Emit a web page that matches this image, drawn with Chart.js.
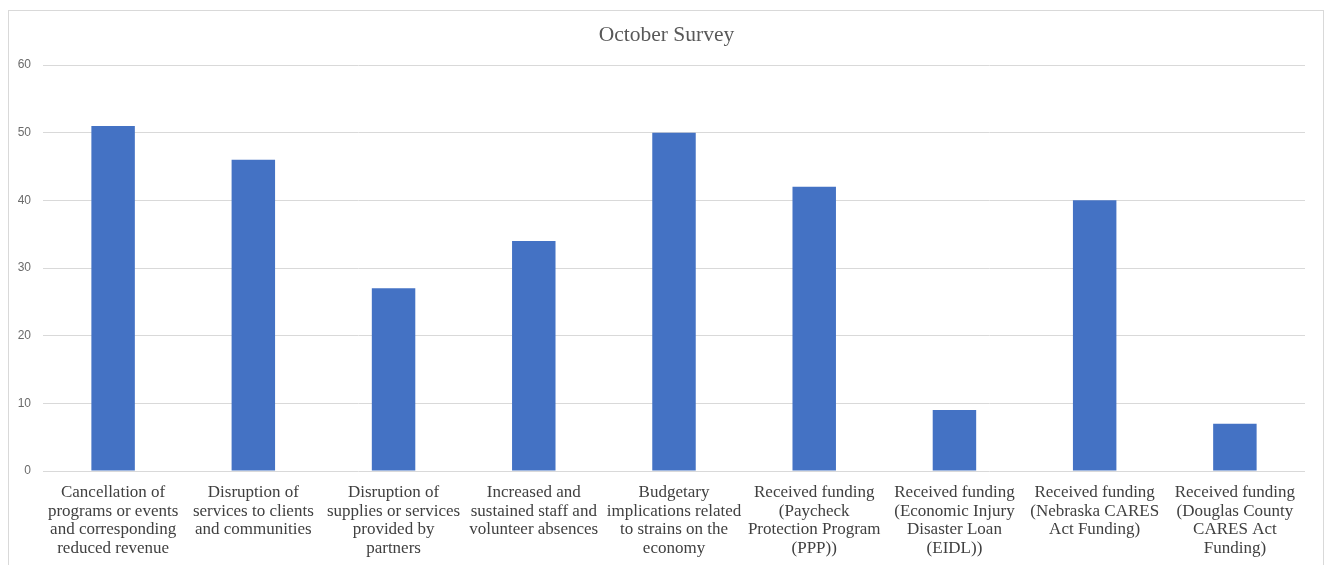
<!DOCTYPE html>
<html>
<head>
<meta charset="utf-8">
<script src="https://cdn.jsdelivr.net/npm/chart.js@4"></script>
<style>
  html, body { margin: 0; padding: 0; background: #ffffff; }
  #wrap { position: relative; width: 1333px; height: 565px; overflow: hidden; }
  #frame { position: absolute; left: 8px; top: 10px; width: 1316px; height: 600px; border: 1px solid #d9d9d9; box-sizing: border-box; }
  canvas { position: absolute; left: 0; top: 0; }
</style>
</head>
<body>
<div id="wrap">
  <div id="frame"></div>
  <canvas id="c" width="1333" height="565"></canvas>
</div>
<script>
const chartTitle = 'October Survey';
const categories = [
  ['Cancellation of', 'programs or events', 'and corresponding', 'reduced revenue'],
  ['Disruption of', 'services to clients', 'and communities'],
  ['Disruption of', 'supplies or services', 'provided by', 'partners'],
  ['Increased and', 'sustained staff and', 'volunteer absences'],
  ['Budgetary', 'implications related', 'to strains on the', 'economy'],
  ['Received funding', '(Paycheck', 'Protection Program', '(PPP))'],
  ['Received funding', '(Economic Injury', 'Disaster Loan', '(EIDL))'],
  ['Received funding', '(Nebraska CARES', 'Act Funding)'],
  ['Received funding', '(Douglas County', 'CARES Act', 'Funding)']
];
const counts = [51, 46, 27, 34, 50, 42, 9, 40, 7];
const yTicks = [0, 10, 20, 30, 40, 50, 60];

// Title centred on the whole canvas width rather than on the padded layout box.
const centeredTitle = {
  id: 'centeredTitle',
  afterDraw(chart) {
    const ctx = chart.ctx;
    ctx.save();
    ctx.font = '21.5px "Liberation Serif"';
    ctx.fillStyle = '#595959';
    ctx.textAlign = 'center';
    ctx.textBaseline = 'middle';
    ctx.fillText(chartTitle, chart.width / 2, 35);
    ctx.restore();
  }
};

new Chart(document.getElementById('c'), {
  type: 'bar',
  data: {
    labels: categories,
    datasets: [{
      data: counts,
      backgroundColor: '#4472C4',
      borderWidth: 0,
      categoryPercentage: 1,
      barPercentage: 0.31
    }]
  },
  plugins: [centeredTitle],
  options: {
    responsive: false,
    animation: false,
    layout: { padding: { left: 0, right: 28, top: 65, bottom: 0 } },
    plugins: {
      legend: { display: false },
      tooltip: { enabled: false },
      title: { display: false }
    },
    scales: {
      x: {
        grid: { display: false, drawTicks: false },
        border: { display: false },
        ticks: {
          color: '#404040',
          font: { family: 'Liberation Serif', size: 17, lineHeight: 1.1 },
          maxRotation: 0,
          autoSkip: false,
          padding: 12
        },
        afterFit(scale) { scale.height = 94; }
      },
      y: {
        min: 0,
        max: 60,
        afterBuildTicks(scale) { scale.ticks = yTicks.map(v => ({ value: v })); },
        grid: { color: '#d9d9d9', lineWidth: 1, drawTicks: false },
        border: { display: false },
        ticks: {
          color: '#6b6b6b',
          font: { family: 'Liberation Sans', size: 12 },
          padding: 12
        },
        afterFit(scale) { scale.width = 43; }
      }
    }
  }
});
</script>
</body>
</html>
